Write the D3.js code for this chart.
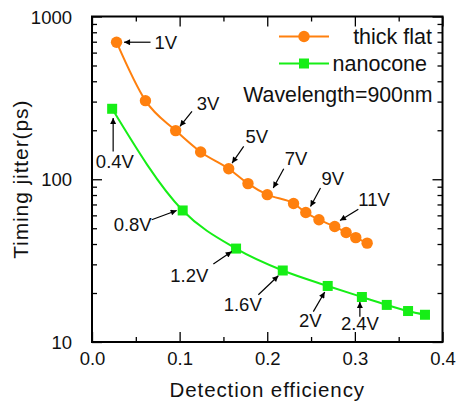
<!DOCTYPE html>
<html><head><meta charset="utf-8">
<script src="https://cdn.jsdelivr.net/npm/d3@7"></script>
<style>body{margin:0;background:#fff}text{font-family:"Liberation Sans",Arial,sans-serif;fill:#111}</style>
</head><body><svg id="c" width="456" height="407"></svg>
<script>
// ---- data ----
const flatEff   = [0.028, 0.061, 0.0955, 0.124, 0.156, 0.178, 0.200, 0.230, 0.244, 0.259, 0.277, 0.290, 0.301, 0.314];
const flatJit   = [695, 304, 199, 147, 116, 94, 80.4, 71, 62.5, 56.4, 51.2, 47.1, 43.8, 40.5];
const coneEff   = [0.023, 0.1035, 0.1644, 0.2177, 0.269, 0.308, 0.3364, 0.3607, 0.380];
const coneJit   = [271, 64.3, 37.5, 27.5, 22.1, 18.9, 16.9, 15.5, 14.7];
const xTicks    = [0.0, 0.1, 0.2, 0.3, 0.4];
const xTickLbl  = ["0.0", "0.1", "0.2", "0.3", "0.4"];
const yTicks    = [10, 100, 1000];
const yTickLbl  = ["10", "100", "1000"];
const seriesNames = ["thick flat", "nanocone"];
const flatLabels = [[0,"1V"],[2,"3V"],[4,"5V"],[6,"7V"],[8,"9V"],[10,"11V"]];
const coneLabels = [[0,"0.4V"],[1,"0.8V"],[2,"1.2V"],[3,"1.6V"],[4,"2V"],[5,"2.4V"]];
const noteText = "Wavelength=900nm";

// ---- layout ----
const L=92, R=442.5, T=16.5, B=342;
const orange="#ff800e", green="#16ee16";
const svg=d3.select("#c");
const x=d3.scaleLinear().domain([0,0.4]).range([L,R]);
const y=d3.scaleLog().domain([10,1000]).range([B,T]);

svg.append("defs").append("marker").attr("id","ah").attr("viewBox","0 0 10 10")
  .attr("refX",10).attr("refY",5).attr("markerWidth",8).attr("markerHeight",6)
  .attr("markerUnits","userSpaceOnUse").attr("orient","auto")
  .append("path").attr("d","M0,0L10,5L0,10z").attr("fill","#000");

// minor ticks
const minorY=[]; [10,100].forEach(d=>{for(let k=2;k<=9;k++)minorY.push(d*k);});
const minorX=[0.05,0.15,0.25,0.35];
const g=svg.append("g");
// left axis
const yl=d3.axisLeft(y).tickValues(yTicks).tickSize(-10).tickFormat((d,i)=>yTickLbl[i]).tickPadding(20);
g.append("g").attr("transform",`translate(${L},0)`).call(yl)
 .call(a=>a.selectAll("text").attr("font-size",18.5).attr("dy","0.36em"));
g.append("g").attr("transform",`translate(${L},0)`).call(d3.axisLeft(y).tickValues(minorY).tickSize(-5).tickFormat(""));
// right axis
g.append("g").attr("transform",`translate(${R},0)`).call(d3.axisRight(y).tickValues(yTicks).tickSize(-10).tickFormat(""));
g.append("g").attr("transform",`translate(${R},0)`).call(d3.axisRight(y).tickValues(minorY).tickSize(-5).tickFormat(""));
// bottom axis
g.append("g").attr("transform",`translate(0,${B})`).call(d3.axisBottom(x).tickValues(xTicks).tickSize(-10).tickFormat((d,i)=>xTickLbl[i]).tickPadding(4))
 .call(a=>a.selectAll("text").attr("font-size",18.5).attr("dy","1.05em"));
g.append("g").attr("transform",`translate(0,${B})`).call(d3.axisBottom(x).tickValues(minorX).tickSize(-5).tickFormat(""));
// top axis
g.append("g").attr("transform",`translate(0,${T})`).call(d3.axisTop(x).tickValues(xTicks).tickSize(-10).tickFormat(""));
g.append("g").attr("transform",`translate(0,${T})`).call(d3.axisTop(x).tickValues(minorX).tickSize(-5).tickFormat(""));
g.selectAll(".domain").remove();
g.selectAll(".tick line").attr("stroke","#000").attr("stroke-width",1.3);
svg.append("rect").attr("x",L).attr("y",T).attr("width",R-L).attr("height",B-T)
  .attr("fill","none").attr("stroke","#000").attr("stroke-width",2);

// titles
svg.append("text").attr("x",(L+R)/2).attr("y",397).attr("text-anchor","middle").attr("font-size",20.5)
  .attr("letter-spacing","0.9px").text("Detection efficiency");
svg.append("text").attr("transform",`translate(28,${(T+B)/2}) rotate(-90)`).attr("text-anchor","middle")
  .attr("font-size",21).attr("letter-spacing","0.9px").text("Timing jitter(ps)");

// series
const flat=flatEff.map((d,i)=>[d,flatJit[i]]);
const cone=coneEff.map((d,i)=>[d,coneJit[i]]);
const line=d3.line().x(d=>x(d[0])).y(d=>y(d[1])).curve(d3.curveMonotoneX);
svg.append("path").attr("d",line(flat)).attr("fill","none").attr("stroke",orange).attr("stroke-width",2);
svg.append("path").attr("d",line(cone)).attr("fill","none").attr("stroke",green).attr("stroke-width",2);
svg.selectAll(".fc").data(flat).join("circle").attr("cx",d=>x(d[0])).attr("cy",d=>y(d[1])).attr("r",5.7).attr("fill",orange);
svg.selectAll(".cs").data(cone).join("rect").attr("x",d=>x(d[0])-5).attr("y",d=>y(d[1])-5).attr("width",10).attr("height",10).attr("fill",green);

// annotations: [head dx,dy, tail dx,dy, text dx,dy, anchor] relative to the marker
const flatAnn={"1V":[7.5,0,34,0,38,6.5,"start"],"3V":[4.3,-4.3,16.3,-19.3,21,-21,"start"],
 "5V":[3.4,-5.7,15,-22.3,16.7,-26,"start"],"7V":[6,-6.7,16.5,-26,17.5,-30,"start"],
 "9V":[4.7,-6,14.7,-24.4,15.7,-27.7,"start"],"11V":[5.3,-6,23.6,-17.4,23.6,-20.7,"start"]};
const coneAnn={"0.4V":[1,9.3,1,42.7,-16.3,59.3,"start"],"0.8V":[-6,0,-31,9.3,-31,21,"end"],
 "1.2V":[-4.3,3,-22.7,15.3,-27.7,33,"end"],"1.6V":[-4.4,5.3,-24.4,24.3,-21,41,"end"],
 "2V":[-3,6,-14.4,25.7,-6,40.7,"end"],"2.4V":[-2,5,-2,19.7,-21,33,"start"]};
function annotate(pts,labels,cfg){
  labels.forEach(([i,t])=>{
    const c=cfg[t], px=x(pts[i][0]), py=y(pts[i][1]);
    svg.append("line").attr("x1",px+c[2]).attr("y1",py+c[3]).attr("x2",px+c[0]).attr("y2",py+c[1])
      .attr("stroke","#000").attr("stroke-width",1.2).attr("marker-end","url(#ah)");
    svg.append("text").attr("x",px+c[4]).attr("y",py+c[5]).attr("text-anchor",c[6]).attr("font-size",18.5).text(t);
  });
}
annotate(flat,flatLabels,flatAnn);
annotate(cone,coneLabels,coneAnn);

// legend
const lg=[[orange,36.5,432],[green,63.5,427]];
lg.forEach(([col,ly,tx],i)=>{
  svg.append("line").attr("x1",279).attr("x2",329).attr("y1",ly).attr("y2",ly).attr("stroke",col).attr("stroke-width",2);
  if(i===0) svg.append("circle").attr("cx",304).attr("cy",ly).attr("r",5.7).attr("fill",col);
  else svg.append("rect").attr("x",299).attr("y",ly-5).attr("width",10).attr("height",10).attr("fill",col);
  svg.append("text").attr("x",tx).attr("y",ly+7.5).attr("text-anchor","end").attr("font-size",21.5).text(seriesNames[i]);
});
svg.append("text").attr("x",432.5).attr("y",101.5).attr("text-anchor","end").attr("font-size",21.3).text(noteText);
</script></body></html>
